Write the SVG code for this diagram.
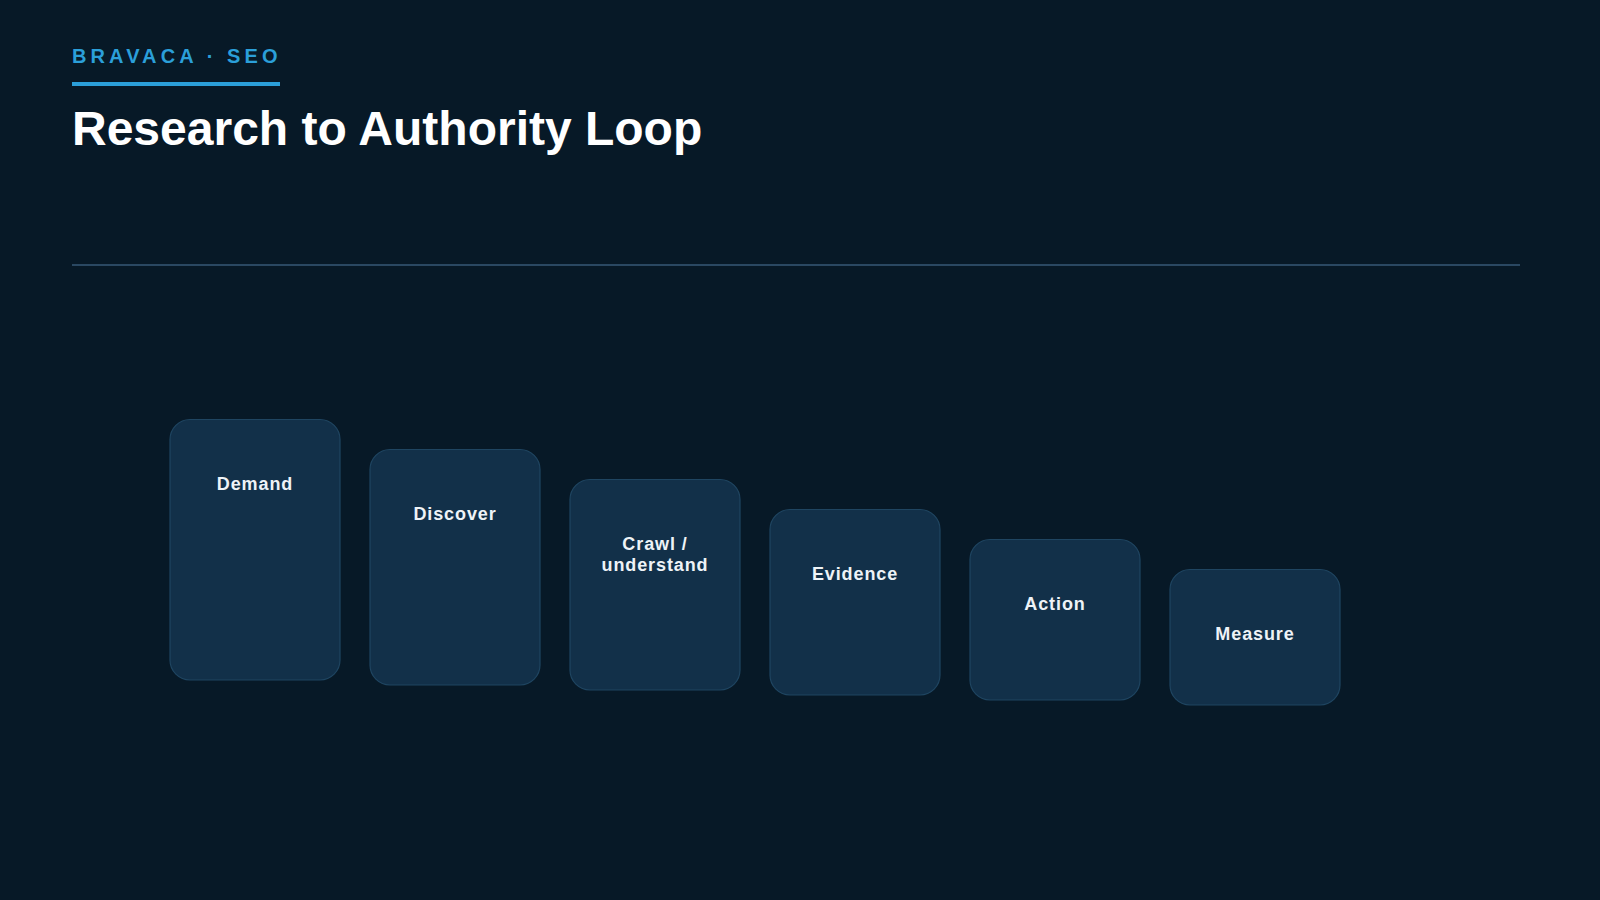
<svg xmlns="http://www.w3.org/2000/svg" width="1600" height="900" viewBox="0 0 1600 900">
<style>
.bg{fill:#071927}
.kicker{font-family:"Liberation Sans",Arial,sans-serif;font-weight:700;font-size:20px;letter-spacing:4.1px;fill:#2b9fd9}
.title{font-family:"Liberation Sans",Arial,sans-serif;font-weight:700;font-size:48px;fill:#ffffff}
.box{fill:#123049;stroke:#1f4561;stroke-width:1.2}
.lbl{font-family:"Liberation Sans",Arial,sans-serif;font-weight:700;font-size:18px;fill:#eef3f7;text-anchor:middle;letter-spacing:0.9px}
</style>
<rect class="bg" x="0" y="0" width="1600" height="900"/>
<g id="header">
<text class="kicker" x="72" y="62.5">BRAVACA · SEO</text>
<rect x="72" y="82" width="208" height="4" fill="#2b9fd9"/>
<text class="title" x="72" y="145">Research to Authority Loop</text>
<rect x="72" y="264" width="1448" height="2" fill="#2a4862"/>
</g>
<g id="connectors"></g>
<g id="node-demand"><rect class="box" x="170" y="419.5" width="170" height="260.5" rx="20"/><text class="lbl" x="255" y="490">Demand</text></g>
<g id="node-discover"><rect class="box" x="370" y="449.5" width="170" height="235.5" rx="20"/><text class="lbl" x="455" y="520">Discover</text></g>
<g id="node-crawl"><rect class="box" x="570" y="479.5" width="170" height="210.5" rx="20"/><text class="lbl" x="655" y="550">Crawl /</text><text class="lbl" x="655" y="571">understand</text></g>
<g id="node-evidence"><rect class="box" x="770" y="509.5" width="170" height="185.5" rx="20"/><text class="lbl" x="855" y="580">Evidence</text></g>
<g id="node-action"><rect class="box" x="970" y="539.5" width="170" height="160.5" rx="20"/><text class="lbl" x="1055" y="610">Action</text></g>
<g id="node-measure"><rect class="box" x="1170" y="569.5" width="170" height="135.5" rx="20"/><text class="lbl" x="1255" y="640">Measure</text></g>
</svg>
